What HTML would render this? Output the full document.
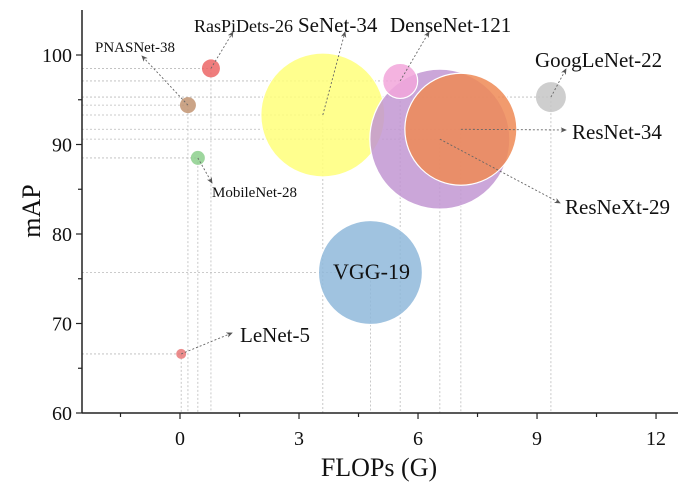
<!DOCTYPE html>
<html><head><meta charset="utf-8"><style>
html,body{margin:0;padding:0;background:#fff;}
svg{display:block;font-family:"Liberation Serif",serif;}
</style></head><body>
<svg id="chart" width="697" height="488" viewBox="0 0 697 488">
<defs><marker id="ar" markerWidth="8" markerHeight="8" refX="6" refY="3" orient="auto"><path d="M0,0 L7,3 L0,6 L2,3 z" fill="#555"/></marker></defs>
<g id="grid"></g>
<g id="bubbles"></g>
<g id="annots"></g>
<g id="axes"></g>
</svg>
<script>
const models=["LeNet-5","PNASNet-38","RasPiDets-26","MobileNet-28","SeNet-34","DenseNet-121","ResNeXt-29","ResNet-34","VGG-19","GoogLeNet-22"];
const flops=[0.03,0.2,0.78,0.45,3.6,5.55,6.55,7.08,4.8,9.35];
const mAP=[66.6,94.4,98.5,88.5,93.3,97.1,90.6,91.7,75.7,95.3];
const sizes=[5,8,9,7,62,17.5,70,56,52,15];
const xTicks=[0,3,6,9,12];
const yTicks=[60,70,80,90,100];
const colors=["#e87878","#c29472","#ec6666","#8ccf8c","#ffff7a","#f2a6da","#c297d2","#ef8a55","#8fb8db","#c6c6c6"];
const labelPos=[[240,342,'start'],[95,52,'start'],[194,32,'start'],[298,32,'start'],[298,32,'start'],[390,32,'start'],[565,214,'start'],[572,139,'start'],[333,279,'start'],[535,67,'start']];
labelPos[3]=[212,197,'start'];
const arrowEnd=[[232,333],[142,56],[233,32],[212,183],[345,32],[429,32],[560,203],[566,130],null,[566,69]];
const fs=[21,15,18,15,21,21,21,21,22,21];
const xs=v=>180+(v)*39.67, ys=v=>413-(v-60)*8.95;
const NS="http://www.w3.org/2000/svg";
function mk(p,t,a){const e=document.createElementNS(NS,t);for(const k in a)e.setAttribute(k,a[k]);p.appendChild(e);return e;}
const grid=document.getElementById('grid'),bub=document.getElementById('bubbles'),an=document.getElementById('annots'),ax=document.getElementById('axes');
const order=[4,6,7,5,8,0,1,2,3,9];
models.forEach((m,i)=>{
 const cx=xs(flops[i]),cy=ys(mAP[i]);
 const h=mk(grid,'line',{x1:82,y1:cy,x2:cx,y2:cy,stroke:'#bbb','stroke-width':0.8,'stroke-dasharray':'2,2'});
 
 
 const v=mk(grid,'line',{x1:cx,y1:cy,x2:cx,y2:413,stroke:'#bbb','stroke-width':0.8,'stroke-dasharray':'2,2'});
 
 
});
order.forEach(i=>{
 const c=mk(bub,'circle',{cx:xs(flops[i]),cy:ys(mAP[i]),r:sizes[i],fill:colors[i],'fill-opacity':0.85,stroke:sizes[i]>15?'#fff':'none','stroke-width':1.2});
 
 
});
models.forEach((m,i)=>{
 const cx=xs(flops[i]),cy=ys(mAP[i]);
 if(arrowEnd[i]){const l=mk(an,'line',{x1:cx,y1:cy,x2:arrowEnd[i][0],y2:arrowEnd[i][1],stroke:'#666','stroke-width':0.9,'stroke-dasharray':'2,2','marker-end':'url(#ar)'});
 
 }
 const t=mk(an,'text',{x:labelPos[i][0],y:labelPos[i][1],'font-size':fs[i],'text-anchor':labelPos[i][2],fill:'#111'});
 t.textContent=m;
 
 
});
let a=mk(ax,'line',{x1:82,y1:10,x2:82,y2:413,stroke:'#222','stroke-width':1.5});


a=mk(ax,'line',{x1:82,y1:413,x2:678,y2:413,stroke:'#222','stroke-width':1.5});


for(let v=-1.5;v<=12;v+=1.5){const x=xs(v);const major=xTicks.includes(v);const t=mk(ax,'line',{x1:x,y1:413,x2:x,y2:major?419:417,stroke:'#222','stroke-width':1.2});
 
 }
xTicks.forEach(v=>{const t=mk(ax,'text',{x:xs(v),y:445,'font-size':20,'text-anchor':'middle',fill:'#111'});t.textContent=v;
 
 });
for(let v=60;v<=100;v+=5){const y=ys(v);const major=v%10===0;const t=mk(ax,'line',{x1:major?76:78,y1:y,x2:82,y2:y,stroke:'#222','stroke-width':1.2});
 
 }
yTicks.forEach(v=>{const t=mk(ax,'text',{x:72,y:ys(v)+7,'font-size':20,'text-anchor':'end',fill:'#111'});t.textContent=v;
 
 });
let tt=mk(ax,'text',{x:379,y:476,'font-size':26,'text-anchor':'middle',fill:'#111'});tt.textContent='FLOPs (G)';


tt=mk(ax,'text',{x:0,y:0,'font-size':26,'text-anchor':'middle',fill:'#111',transform:'translate(40,211) rotate(-90)'});tt.textContent='mAP';


</script>
</body></html>
